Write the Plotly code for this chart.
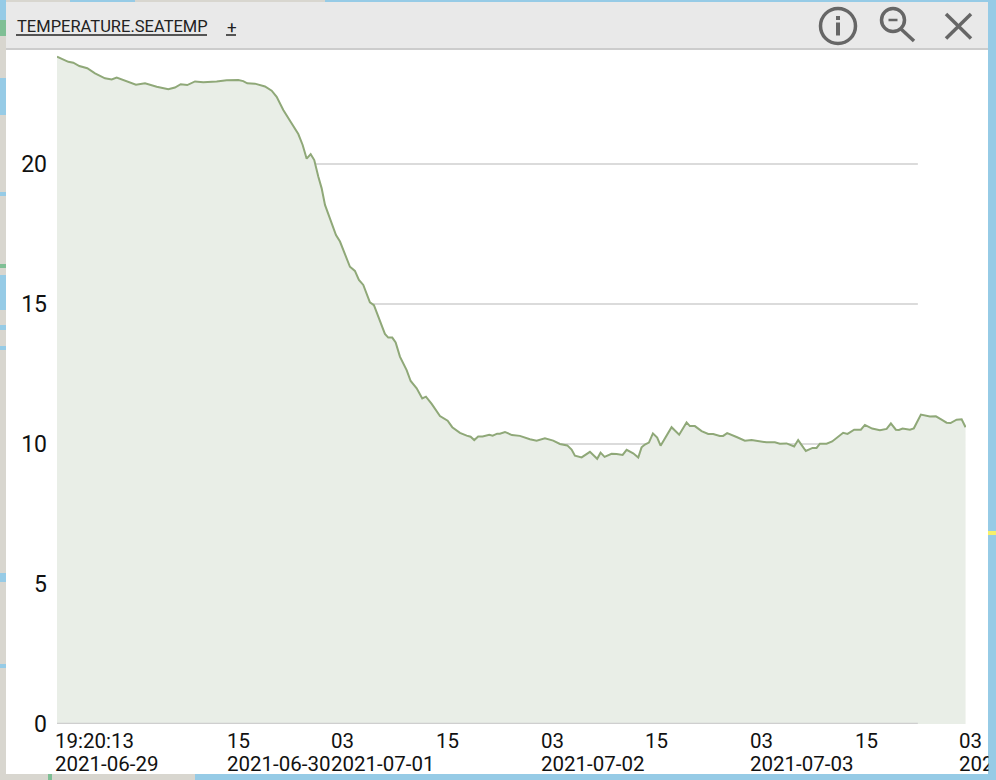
import pandas as pd
import plotly.graph_objects as go

START = pd.Timestamp("2021-06-29 19:20:13")
END_HOURS = 104.2
GRID_END_HOURS = 98.68

HOURS = [0, 0.72, 1.30, 1.87, 2.56, 3.47, 4.36, 5.50, 6.27, 6.84, 7.79, 9.05, 10.09, 11.43, 12.76, 13.52, 14.18,
         14.93, 15.82, 16.77, 18.30, 19.45, 20.78, 21.35, 21.81, 22.69, 23.84, 24.61, 25.18, 25.94, 26.78, 27.66,
         28.16, 28.62, 29.08, 29.49, 29.95, 30.34, 30.72, 31.29, 31.98, 32.44, 33.58, 34.15, 34.61, 35.11, 35.87,
         36.33, 37.59, 37.97, 38.43, 38.82, 39.31, 40.08, 40.54, 41.23, 41.87, 42.29, 42.95, 43.90, 44.78, 45.31,
         46.19, 46.96, 47.41, 47.83, 48.28, 48.79, 49.55, 49.94, 50.46, 50.77, 51.35, 52.15, 53.06, 54.21, 54.98,
         55.93, 56.88, 57.65, 58.49, 58.99, 59.37, 60.14, 61.09, 61.92, 62.31, 62.77, 63.57, 64.15, 64.84, 65.30,
         66.05, 66.63, 67.01, 67.39, 67.85, 68.31, 68.80, 69.19, 70.45, 71.32, 72.17, 72.55, 73.12, 73.89, 74.65,
         75.22, 75.98, 76.36, 76.82, 77.90, 78.85, 79.62, 80.57, 81.34, 82.29, 82.86, 83.63, 84.50, 84.96, 85.84,
         86.61, 87.07, 87.45, 88.22, 88.86, 89.55, 90.12, 90.62, 91.38, 92.15, 92.61, 93.44, 94.33, 95.10, 95.59,
         96.16, 96.51, 96.93, 97.77, 98.22, 99.03, 100.06, 100.75, 101.40, 101.97, 102.43, 103.12, 103.70, 104.15]

SEATEMP = [23.83, 23.73, 23.65, 23.62, 23.50, 23.42, 23.24, 23.06, 23.02, 23.09, 22.98, 22.83, 22.88, 22.76, 22.67,
           22.73, 22.85, 22.82, 22.95, 22.92, 22.95, 22.99, 23.00, 22.96, 22.88, 22.87, 22.77, 22.62, 22.40, 21.93,
           21.51, 21.07, 20.68, 20.19, 20.35, 20.14, 19.55, 19.13, 18.54, 18.06, 17.46, 17.23, 16.33, 16.18, 15.86,
           15.68, 15.06, 14.96, 13.93, 13.80, 13.80, 13.63, 13.12, 12.64, 12.25, 11.99, 11.63, 11.69, 11.43, 11.00,
           10.83, 10.60, 10.40, 10.30, 10.26, 10.14, 10.27, 10.27, 10.33, 10.30, 10.37, 10.37, 10.43, 10.32, 10.29,
           10.17, 10.12, 10.20, 10.12, 10.00, 9.95, 9.80, 9.58, 9.52, 9.72, 9.47, 9.69, 9.54, 9.65, 9.64, 9.61, 9.79,
           9.67, 9.52, 9.88, 9.98, 10.05, 10.38, 10.23, 9.94, 10.60, 10.33, 10.77, 10.64, 10.64, 10.46, 10.36, 10.36,
           10.29, 10.29, 10.39, 10.25, 10.12, 10.14, 10.11, 10.06, 10.06, 10.01, 10.02, 9.91, 10.14, 9.75, 9.86, 9.86,
           10.01, 10.01, 10.09, 10.26, 10.40, 10.36, 10.51, 10.51, 10.68, 10.55, 10.49, 10.54, 10.74, 10.51, 10.50,
           10.55, 10.51, 10.56, 11.05, 10.98, 10.99, 10.87, 10.76, 10.75, 10.87, 10.88, 10.60]

Y_TICKS = [0, 5, 10, 15, 20]
GRID_LEVELS = [10, 15, 20]
X_TICK_TIMES = ["2021-06-29 19:20:13", "2021-06-30 15:00", "2021-07-01 03:00", "2021-07-01 15:00",
                "2021-07-02 03:00", "2021-07-02 15:00", "2021-07-03 03:00", "2021-07-03 15:00", "2021-07-04 03:00"]
X_TICK_TOP = ["19:20:13", "15", "03", "15", "03", "15", "03", "15", "03"]
X_TICK_BOTTOM = ["2021-06-29", "2021-06-30", "2021-07-01", "", "2021-07-02", "", "2021-07-03", "", "2021-07-04"]
TITLE = "TEMPERATURE.SEATEMP"

W, H = 996, 780
L, T, R, B = 57, 50, 966, 724
FONT = "Roboto"
BLUE, GRAY, GREEN = "#96cbe6", "#d8d6cf", "#7fbf95"
times = [START + pd.Timedelta(hours=h) for h in HOURS]
end_time = START + pd.Timedelta(hours=END_HOURS)
grid_end = START + pd.Timedelta(hours=GRID_END_HOURS)


def px(x):
    return (x - L) / (R - L)


def py(y):
    return (B - y) / (B - T)


def rect(x0, y0, x1, y1, color):
    return dict(type="rect", xref="paper", yref="paper", x0=px(x0), x1=px(x1), y0=py(y0), y1=py(y1),
                fillcolor=color, line_width=0, layer="below")


def seg(x0, y0, x1, y1, color="#666666", width=3.5, layer="above"):
    return dict(type="line", xref="paper", yref="paper", x0=px(x0), x1=px(x1), y0=py(y0), y1=py(y1),
                line=dict(color=color, width=width), layer=layer)


def circ(cx, cy, r, color="#666666", width=3.5):
    return dict(type="circle", xref="paper", yref="paper", x0=px(cx - r), x1=px(cx + r), y0=py(cy - r), y1=py(cy + r),
                line=dict(color=color, width=width), layer="above")


shapes = [
    # map behind the panel
    rect(0, 0, 6, 780, GRAY), rect(0, 0, 6, 20, BLUE), rect(0, 78, 6, 115, BLUE), rect(0, 192, 6, 196, BLUE),
    rect(0, 275, 6, 310, BLUE), rect(0, 325, 6, 330, BLUE), rect(0, 346, 6, 350, BLUE), rect(0, 573, 6, 582, BLUE),
    rect(0, 664, 6, 668, BLUE), rect(0, 264, 6, 268, GREEN), rect(0, 20, 6, 36, GREEN),
    rect(0, 774, 195, 780, GRAY), rect(48, 774, 52, 780, GREEN),
    rect(6, 0, 70, 2, GRAY), rect(135, 0, 325, 2, GRAY),
    rect(986, 531, 996, 535, "#f6f06a"),
    # panel
    rect(6, 2, 988, 774, "#ffffff"), rect(6, 2, 988, 48, "#e9e9e9"), rect(6, 48, 988, 50, "#cccccc"),
]
for level in GRID_LEVELS:
    shapes.append(dict(type="line", xref="x", yref="y", x0=START, x1=grid_end, y0=level, y1=level,
                       line=dict(color="#cfcfcf", width=1.5), layer="below"))
shapes.append(dict(type="line", xref="x", yref="y", x0=START, x1=grid_end, y0=0, y1=0,
                   line=dict(color="#cfcfcf", width=2.5), layer="above"))
shapes += [
    seg(16, 35, 207, 35, color="#222222", width=1.5), seg(226, 35, 236, 35, color="#222222", width=1.5),
    circ(838, 26, 17.5), seg(838, 22.5, 838, 35.5, width=4), seg(838, 16, 838, 20, width=4),
    circ(893, 20, 11.5), seg(888.5, 20, 897.5, 20, width=2.5), seg(901, 29, 914, 41),
    seg(946, 14, 971, 38.5), seg(971, 14, 946, 38.5),
]

annotations = [
    dict(text=TITLE, xref="paper", yref="paper", x=px(16), y=py(27), xanchor="left", yanchor="middle", xshift=-1,
         showarrow=False, font=dict(family=FONT, size=16.5, color="#222222")),
    dict(text="+", xref="paper", yref="paper", x=px(226), y=py(27), xanchor="left", yanchor="middle", xshift=-1,
         showarrow=False, font=dict(family=FONT, size=17, color="#222222")),
]
for when, top, bottom in zip(X_TICK_TIMES, X_TICK_TOP, X_TICK_BOTTOM):
    annotations.append(dict(text=top, xref="x", x=when, yref="paper", y=py(741), xanchor="left", yanchor="middle",
                            showarrow=False, xshift=-3, borderpad=0,
                            font=dict(family=FONT, size=20.5, color="#111111")))
    if bottom:
        annotations.append(dict(text=bottom, xref="x", x=when, yref="paper", y=py(764), xanchor="left",
                                yanchor="middle", showarrow=False, xshift=-3, borderpad=0,
                                font=dict(family=FONT, size=20.5, color="#111111")))
# the panel's right edge crops the last date label
annotations.append(dict(text="&nbsp;", xref="paper", yref="paper", x=px(988), y=py(728), xanchor="left", yanchor="top",
                        width=8, height=52, bgcolor=BLUE, showarrow=False, borderpad=0, font=dict(size=1)))

fig = go.Figure(go.Scatter(x=times, y=SEATEMP, mode="lines", fill="tozeroy", fillcolor="#e9eee7",
                           line=dict(color="#8fa878", width=2), hoverinfo="skip", showlegend=False))
fig.update_layout(
    width=W, height=H, margin=dict(l=L, r=W - R, t=T, b=H - B, pad=0),
    paper_bgcolor=BLUE, plot_bgcolor="rgba(0,0,0,0)", shapes=shapes, annotations=annotations,
    font=dict(family=FONT, color="#111111"),
    xaxis=dict(range=[START, end_time], showgrid=False, zeroline=False, showticklabels=False, ticks="", showline=False),
    yaxis=dict(range=[0, (B - T) / 28], tickmode="array", tickvals=Y_TICKS, showgrid=False, zeroline=False,
               showline=False, ticks="", ticklabelstandoff=9, tickfont=dict(family=FONT, size=23, color="#111111")),
)
fig.write_html("out.html", post_script="document.body.style.margin='0';document.body.style.overflow='hidden';",
               config=dict(displayModeBar=False))
